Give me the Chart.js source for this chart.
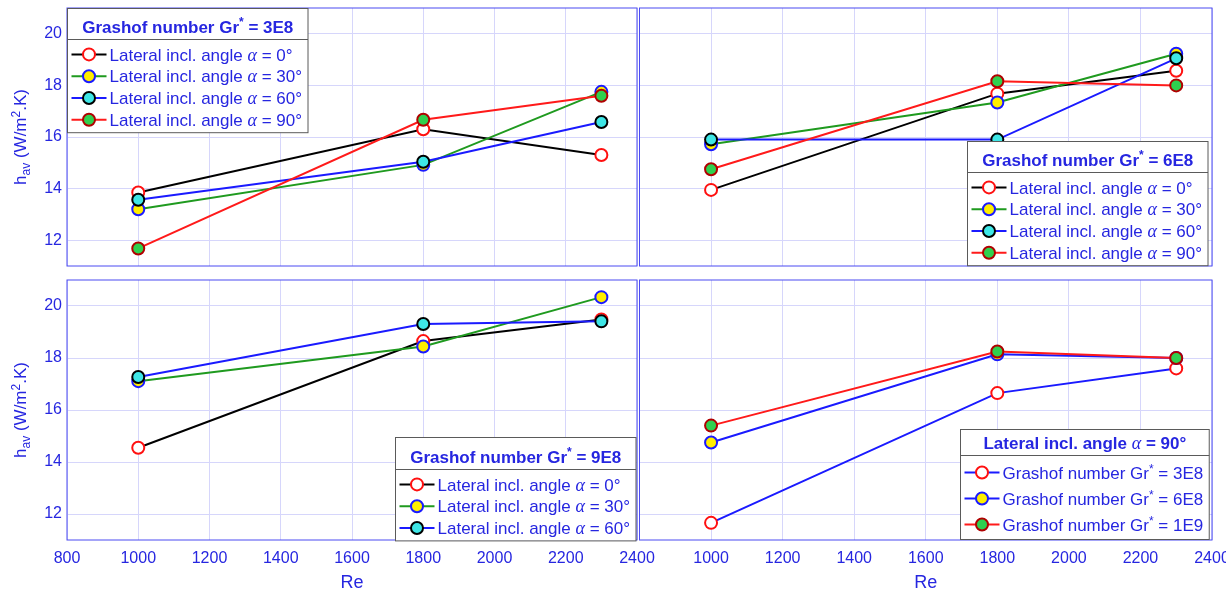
<!DOCTYPE html>
<html>
<head>
<meta charset="utf-8">
<script src="https://cdn.jsdelivr.net/npm/chart.js@4.4.1/dist/chart.umd.min.js"></script>
<style>
  html, body { margin: 0; padding: 0; background: #fff; overflow: hidden; }
  #wrap { position: relative; width: 1226px; height: 594px; overflow: hidden; background: #fff; }
  #wrap canvas { position: absolute; }
</style>
</head>
<body>
<div id="wrap">
  <canvas id="c-tl"></canvas>
  <canvas id="c-bl"></canvas>
  <canvas id="c-tr"></canvas>
  <canvas id="c-br"></canvas>
</div>
<script>
/* ── Datos ───────────────────────────────────────────────── */
const reynolds = [1000, 1800, 2300];
const xTickValues = [800, 1000, 1200, 1400, 1600, 1800, 2000, 2200, 2400];
const yTickValues = [12, 14, 16, 18, 20];

// Gr* = 3E8
const gr3e8_a0  = [13.85, 16.3, 15.3];
const gr3e8_a30 = [13.2, 14.92, 17.75];
const gr3e8_a60 = [13.57, 15.04, 16.58];
const gr3e8_a90 = [11.68, 16.67, 17.6];
// Gr* = 6E8
const gr6e8_a0  = [13.95, 17.68, 18.57];
const gr6e8_a30 = [15.72, 17.34, 19.23];
const gr6e8_a60 = [15.9, 15.9, 19.05];
const gr6e8_a90 = [14.75, 18.16, 18.0];
// Gr* = 9E8
const gr9e8_a0  = [14.55, 18.65, 19.48];
const gr9e8_a30 = [17.11, 18.44, 20.34];
const gr9e8_a60 = [17.27, 19.31, 19.41];
// α = 90°
const a90_gr3e8 = [11.66, 16.65, 17.6];
const a90_gr6e8 = [14.75, 18.14, 18.0];
const a90_gr1e9 = [15.4, 18.25, 18.0];

const angleLabels = ['0°', '30°', '60°', '90°'];
const grashofLabels = ['3E8', '6E8', '1E9'];
const panelTitles = [
  'Grashof number Gr^{*} = 3E8',
  'Grashof number Gr^{*} = 6E8',
  'Grashof number Gr^{*} = 9E8',
  'Lateral incl. angle α = 90°',
];
const yTitle = 'h_{av} (W/m^{2}.K)';
const xTitle = 'Re';

const angleItem = a => `Lateral incl. angle α = ${a}`;
const grashofItem = g => `Grashof number Gr^{*} = ${g}`;

/* ── Estilos ─────────────────────────────── */
const SANS = '"Liberation Sans", Arial, sans-serif';
const SERIF = '"Liberation Serif", "DejaVu Serif", serif';
const TEXT_BLUE = '#2626e0';
const GRID = '#d6d6fb';
const FRAME = '#4b4bf2';
const LEGEND_EDGE = '#5a5a5a';

const STYLE = {
  a0:  { line: '#000000', face: '#ffffff', edge: '#ff1010' },
  a30: { line: '#1f9a1f', face: '#ffee00', edge: '#1a1aff' },
  a60: { line: '#1a1aff', face: '#3ee6e6', edge: '#000000' },
  a90: { line: '#ff1a1a', face: '#2fd04f', edge: '#b00000' },
  g3:  { line: '#1a1aff', face: '#ffffff', edge: '#ff1010' },
  g6:  { line: '#1a1aff', face: '#ffee00', edge: '#1a1aff' },
};

/* ── Texto enriquecido: ^{sup}, _{sub}, α en cursiva ── */
function richSegments(str) {
  const segs = [];
  const re = /\^\{([^}]*)\}|_\{([^}]*)\}|(α)|([^\^_α]+)/g;
  let m;
  while ((m = re.exec(str))) {
    if (m[1] != null) segs.push({ t: m[1], kind: 'sup' });
    else if (m[2] != null) segs.push({ t: m[2], kind: 'sub' });
    else if (m[3]) segs.push({ t: m[3], kind: 'greek' });
    else segs.push({ t: m[4], kind: 'text' });
  }
  return segs;
}
function segFont(seg, size, bold) {
  const w = bold ? 'bold ' : '';
  if (seg.kind === 'greek') return `italic ${Math.round(size * 1.08)}px ${SERIF}`;
  if (seg.kind === 'sup' || seg.kind === 'sub') return `${w}${Math.round(size * 0.68)}px ${SANS}`;
  return `${w}${size}px ${SANS}`;
}
function richWidth(ctx, str, size, bold) {
  let w = 0;
  for (const s of richSegments(str)) { ctx.font = segFont(s, size, bold); w += ctx.measureText(s.t).width; }
  return w;
}
function drawRich(ctx, str, x, y, size, bold, align) {
  const total = richWidth(ctx, str, size, bold);
  if (align === 'center') x -= total / 2;
  else if (align === 'right') x -= total;
  ctx.textBaseline = 'alphabetic';
  ctx.textAlign = 'left';
  for (const s of richSegments(str)) {
    ctx.font = segFont(s, size, bold);
    const dy = s.kind === 'sup' ? -0.36 * size : s.kind === 'sub' ? 0.26 * size : 0;
    ctx.fillText(s.t, x, y + dy);
    x += ctx.measureText(s.t).width;
  }
}

/* ── Plugin: marco, títulos de ejes y leyenda con título ── */
const panelDeco = {
  id: 'panelDeco',
  beforeDatasetsDraw(chart) {
    const { ctx, chartArea: a } = chart;
    ctx.save();
    ctx.strokeStyle = FRAME;
    ctx.lineWidth = 1;
    ctx.strokeRect(a.left, a.top, a.right - a.left, a.bottom - a.top);
    ctx.restore();
  },
  afterDraw(chart, _args, o) {
    const { ctx, chartArea: a } = chart;
    ctx.save();
    ctx.fillStyle = TEXT_BLUE;
    if (o.yTitle) {
      ctx.save();
      ctx.translate(o.yTitleX, (a.top + a.bottom) / 2);
      ctx.rotate(-Math.PI / 2);
      drawRich(ctx, yTitle, 0, 0, 17, false, 'center');
      ctx.restore();
    }
    // xTitleY se da como distancia bajo el borde inferior del área
    if (o.xTitle) drawRich(ctx, xTitle, (a.left + a.right) / 2, a.bottom + o.xTitleY, 18, false, 'center');
    ctx.restore();
    drawLegend(chart, o.legend);
  },
};

function drawLegend(chart, L) {
  const { ctx, chartArea: a } = chart;
  const ds = chart.data.datasets;
  const FS = 17, padL = 4, sample = 35, gap = 3, padR = 6, rowTop = 4, rowBot = 2;
  ctx.save();
  const itemW = Math.max(...ds.map(d => richWidth(ctx, d.label, FS, false)));
  const titleW = richWidth(ctx, L.title, FS, true);
  const w = Math.max(padL + sample + gap + itemW + padR, titleW + 20);
  const h = L.titleH + rowTop + ds.length * L.rowH + rowBot;
  let x, y;
  if (L.corner === 'nw') { x = a.left + L.dx; y = a.top + L.dy; }
  else { x = a.right - L.dx - w; y = a.bottom - L.dy - h; }
  x = Math.round(x) + 0.5; y = Math.round(y) + 0.5;

  ctx.fillStyle = '#ffffff';
  ctx.fillRect(x, y, w, h);
  ctx.strokeStyle = LEGEND_EDGE;
  ctx.lineWidth = 1;
  ctx.strokeRect(x, y, w, h);
  ctx.beginPath();
  ctx.moveTo(x, y + L.titleH);
  ctx.lineTo(x + w, y + L.titleH);
  ctx.stroke();

  ctx.fillStyle = TEXT_BLUE;
  drawRich(ctx, L.title, x + w / 2, y + L.titleH - 7, FS, true, 'center');

  ds.forEach((d, i) => {
    const cy = y + L.titleH + rowTop + L.rowH * (i + 0.5);
    ctx.strokeStyle = d.borderColor;
    ctx.lineWidth = 2;
    ctx.beginPath();
    ctx.moveTo(x + padL, cy);
    ctx.lineTo(x + padL + sample, cy);
    ctx.stroke();
    ctx.beginPath();
    ctx.arc(x + padL + sample / 2, cy, 6, 0, Math.PI * 2);
    ctx.fillStyle = d.pointBackgroundColor;
    ctx.fill();
    ctx.strokeStyle = d.pointBorderColor;
    ctx.stroke();
    ctx.fillStyle = TEXT_BLUE;
    drawRich(ctx, d.label, x + padL + sample + gap, cy + 0.36 * FS, FS, false, 'left');
  });
  ctx.restore();
}

/* ── Construcción de cada panel ─────────────────────────── */
function makeSeries(label, values, st, idx, n) {
  return {
    label,
    data: values.map((v, i) => ({ x: reynolds[i], y: v })),
    borderColor: st.line,
    backgroundColor: st.face,
    borderWidth: 2,
    pointRadius: 6,
    pointBorderWidth: 2,
    pointBackgroundColor: st.face,
    pointBorderColor: st.edge,
    tension: 0,
    fill: false,
    order: n - idx, // la última serie queda encima (como en MATLAB)
  };
}

function buildPanel(canvasId, p) {
  const cv = document.getElementById(canvasId);
  cv.width = p.w; cv.height = p.h;
  cv.style.left = p.left + 'px';
  cv.style.top = p.top + 'px';
  const A = p.area;
  const n = p.series.length;
  new Chart(cv.getContext('2d'), {
    type: 'line',
    data: { datasets: p.series.map((s, i) => makeSeries(s.label, s.values, s.style, i, n)) },
    plugins: [panelDeco],
    options: {
      responsive: false,
      animation: false,
      devicePixelRatio: 1,
      layout: {
        padding: {
          left: p.yLabels ? 0 : A.l,
          top: A.t,
          right: p.w - A.r,
          bottom: p.xLabels ? 0 : p.h - A.b,
        },
      },
      plugins: {
        legend: { display: false },
        tooltip: { enabled: false },
        panelDeco: {
          yTitle: p.yLabels, yTitleX: 26,
          xTitle: p.xLabels, xTitleY: 48,
          legend: p.legend,
        },
      },
      scales: {
        x: {
          type: 'linear',
          min: 800, max: 2400,
          afterBuildTicks: s => { s.ticks = xTickValues.map(v => ({ value: v })); },
          ticks: {
            display: p.xLabels,
            autoSkip: false,
            maxRotation: 0,
            padding: 8.5,
            color: TEXT_BLUE,
            font: { family: SANS, size: 16 },
            callback: v => (p.hide800 && v === 800) ? '' : String(v),
          },
          grid: { color: GRID, drawTicks: false },
          border: { display: false },
          afterFit: s => {
            s.height = p.xLabels ? p.h - A.b : 0;
            s.paddingLeft = 0; s.paddingRight = 0;
          },
        },
        y: {
          min: 11, max: 21,
          afterBuildTicks: s => { s.ticks = yTickValues.map(v => ({ value: v })); },
          ticks: {
            display: p.yLabels,
            padding: 5,
            color: TEXT_BLUE,
            font: { family: SANS, size: 16 },
            callback: v => String(v),
          },
          grid: { color: GRID, drawTicks: false },
          border: { display: false },
          afterFit: s => {
            s.width = p.yLabels ? A.l : 0;
            s.paddingTop = 0; s.paddingBottom = 0;
          },
        },
      },
    },
  });
}

buildPanel('c-tl', {
  left: 0, top: 0, w: 670, h: 274,
  area: { l: 67, t: 6, r: 637, b: 270 },
  yLabels: true, xLabels: false,
  legend: { title: panelTitles[0], corner: 'nw', dx: 0, dy: 0, titleH: 31, rowH: 21.8 },
  series: [
    { label: angleItem(angleLabels[0]), values: gr3e8_a0, style: STYLE.a0 },
    { label: angleItem(angleLabels[1]), values: gr3e8_a30, style: STYLE.a30 },
    { label: angleItem(angleLabels[2]), values: gr3e8_a60, style: STYLE.a60 },
    { label: angleItem(angleLabels[3]), values: gr3e8_a90, style: STYLE.a90 },
  ],
});

buildPanel('c-tr', {
  left: 620, top: 0, w: 606, h: 274,
  area: { l: 19.5, t: 6, r: 592, b: 270 },
  yLabels: false, xLabels: false,
  legend: { title: panelTitles[1], corner: 'se', dx: 4, dy: 1, titleH: 31, rowH: 21.8 },
  series: [
    { label: angleItem(angleLabels[0]), values: gr6e8_a0, style: STYLE.a0 },
    { label: angleItem(angleLabels[1]), values: gr6e8_a30, style: STYLE.a30 },
    { label: angleItem(angleLabels[2]), values: gr6e8_a60, style: STYLE.a60 },
    { label: angleItem(angleLabels[3]), values: gr6e8_a90, style: STYLE.a90 },
  ],
});

buildPanel('c-bl', {
  left: 0, top: 272, w: 670, h: 322,
  area: { l: 67, t: 3.5, r: 637, b: 268 },
  yLabels: true, xLabels: true,
  legend: { title: panelTitles[2], corner: 'se', dx: 1, dy: 0, titleH: 32, rowH: 21.8 },
  series: [
    { label: angleItem(angleLabels[0]), values: gr9e8_a0, style: STYLE.a0 },
    { label: angleItem(angleLabels[1]), values: gr9e8_a30, style: STYLE.a30 },
    { label: angleItem(angleLabels[2]), values: gr9e8_a60, style: STYLE.a60 },
  ],
});

buildPanel('c-br', {
  left: 620, top: 272, w: 606, h: 322,
  area: { l: 19.5, t: 3.5, r: 592, b: 268 },
  yLabels: false, xLabels: true, hide800: true,
  legend: { title: panelTitles[3], corner: 'se', dx: 3, dy: 1, titleH: 26, rowH: 26 },
  series: [
    { label: grashofItem(grashofLabels[0]), values: a90_gr3e8, style: STYLE.g3 },
    { label: grashofItem(grashofLabels[1]), values: a90_gr6e8, style: STYLE.g6 },
    { label: grashofItem(grashofLabels[2]), values: a90_gr1e9, style: STYLE.a90 },
  ],
});
</script>
</body>
</html>
